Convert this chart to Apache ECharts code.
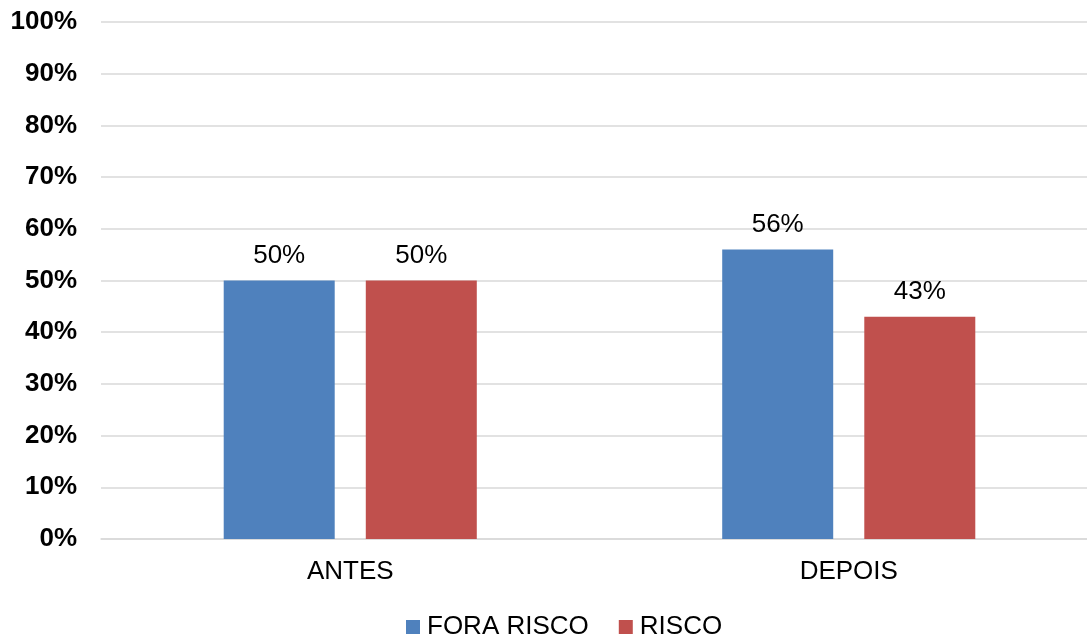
<!DOCTYPE html>
<html>
<head>
<meta charset="utf-8">
<script src="https://cdn.jsdelivr.net/npm/echarts@6/dist/echarts.min.js"></script>
<style>
  html, body { margin: 0; padding: 0; background: #fff; overflow: hidden; }
  #chart { width: 1098px; height: 639px; }
</style>
</head>
<body>
<div id="chart"></div>
<script>
const categories = ['ANTES', 'DEPOIS']
const foraRisco = [50, 56]
const risco = [50, 43]
const seriesNames = ['FORA RISCO', 'RISCO']

const font = '"Liberation Sans", Arial, sans-serif'

// the plot area runs a little past the right edge of the window, as in the original
const chart = echarts.init(document.getElementById('chart'))

const labelStyle = {
  show: true,
  position: 'top',
  distance: 12,
  formatter: p => p.value + '%',
  fontFamily: font,
  fontSize: 26,
  color: '#000'
}

chart.setOption({
  animation: false,
  textStyle: { fontFamily: font },
  grid: { left: 101, top: 22, right: 0, bottom: 100, containLabel: false },
  legend: {
    left: 406,
    top: 614,
    padding: 0,
    itemWidth: 14,
    itemHeight: 14,
    itemGap: 30,
    icon: 'rect',
    textStyle: { fontFamily: font, fontSize: 26, color: '#000', padding: [0, 0, 0, 2] },
    data: seriesNames
  },
  xAxis: {
    type: 'category',
    data: categories,
    axisTick: { show: false },
    axisLine: { show: true, lineStyle: { color: '#D9D9D9', width: 1.5 } },
    axisLabel: { fontFamily: font, fontSize: 26, color: '#000', margin: 20 }
  },
  yAxis: {
    type: 'value',
    min: 0,
    max: 100,
    interval: 10,
    axisLine: { show: false },
    axisTick: { show: false },
    splitLine: { lineStyle: { color: '#D9D9D9', width: 1.5 } },
    axisLabel: {
      formatter: '{value}%',
      fontFamily: font,
      fontSize: 26,
      fontWeight: 'bold',
      color: '#000',
      margin: 24
    }
  },
  series: [
    {
      name: seriesNames[0],
      type: 'bar',
      data: foraRisco,
      barWidth: 111,
      barGap: '28%',
      itemStyle: { color: '#4F81BD' },
      label: labelStyle
    },
    {
      name: seriesNames[1],
      type: 'bar',
      data: risco,
      barWidth: 111,
      itemStyle: { color: '#C0504D' },
      label: labelStyle
    }
  ]
})
</script>
</body>
</html>
